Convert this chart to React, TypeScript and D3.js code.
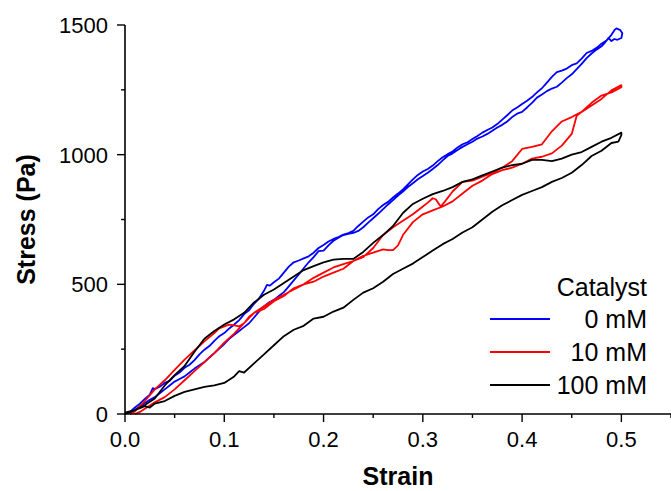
import React from "react";
import * as d3 from "d3";

const xTicks = [0, 0.1, 0.2, 0.3, 0.4, 0.5];
const xMinor = [0.05, 0.15, 0.25, 0.35, 0.45, 0.55];
const yTicks = [0, 500, 1000, 1500];
const yMinor = [250, 750, 1250];
const seriesNames = ["0 mM", "10 mM", "100 mM"];
const seriesColors = ["#0000ff", "#ff0000", "#000000"];

// 0 mM: loading then unloading
const blueStrain = [0, 0.005, 0.01, 0.015, 0.02, 0.025, 0.028, 0.03, 0.035, 0.04, 0.045, 0.05, 0.055, 0.06, 0.065, 0.07, 0.075, 0.08, 0.085, 0.09, 0.095, 0.1, 0.105, 0.11, 0.115, 0.12, 0.125, 0.13, 0.135, 0.14, 0.143, 0.146, 0.15, 0.155, 0.16, 0.165, 0.17, 0.175, 0.18, 0.185, 0.19, 0.195, 0.2, 0.205, 0.21, 0.215, 0.22, 0.225, 0.23, 0.235, 0.24, 0.245, 0.25, 0.255, 0.26, 0.265, 0.27, 0.275, 0.28, 0.285, 0.29, 0.295, 0.3, 0.305, 0.31, 0.315, 0.32, 0.325, 0.33, 0.335, 0.34, 0.345, 0.35, 0.355, 0.36, 0.365, 0.37, 0.375, 0.38, 0.385, 0.39, 0.395, 0.4, 0.405, 0.41, 0.415, 0.42, 0.425, 0.43, 0.435, 0.44, 0.445, 0.45, 0.455, 0.46, 0.465, 0.47, 0.475, 0.48, 0.485, 0.49, 0.493, 0.495, 0.499, 0.501, 0.5, 0.496, 0.493, 0.49, 0.487, 0.483, 0.48, 0.475, 0.47, 0.465, 0.46, 0.455, 0.45, 0.445, 0.44, 0.435, 0.43, 0.425, 0.42, 0.415, 0.41, 0.405, 0.4, 0.395, 0.39, 0.385, 0.38, 0.375, 0.37, 0.365, 0.36, 0.355, 0.35, 0.345, 0.34, 0.335, 0.33, 0.325, 0.32, 0.315, 0.31, 0.305, 0.3, 0.295, 0.29, 0.285, 0.28, 0.275, 0.27, 0.265, 0.26, 0.255, 0.25, 0.245, 0.24, 0.235, 0.23, 0.225, 0.22, 0.215, 0.21, 0.205, 0.2, 0.195, 0.19, 0.185, 0.18, 0.175, 0.17, 0.165, 0.16, 0.155, 0.15, 0.145, 0.14, 0.135, 0.13, 0.125, 0.12, 0.115, 0.11, 0.105, 0.1, 0.095, 0.09, 0.085, 0.08, 0.075, 0.07, 0.065, 0.06, 0.055, 0.05, 0.045, 0.04, 0.035, 0.03, 0.025, 0.02, 0.015, 0.01, 0.005];
const blueStress = [0, 8, 25, 40, 58, 75, 100, 96, 105, 120, 128, 148, 160, 178, 190, 208, 230, 248, 262, 282, 300, 312, 330, 345, 362, 385, 400, 425, 445, 475, 498, 495, 508, 522, 545, 568, 585, 592, 600, 608, 622, 640, 652, 665, 675, 682, 692, 698, 706, 725, 742, 758, 770, 790, 806, 818, 835, 850, 866, 885, 905, 922, 935, 945, 958, 975, 990, 1002, 1012, 1028, 1040, 1048, 1060, 1072, 1085, 1095, 1105, 1118, 1135, 1152, 1170, 1182, 1195, 1208, 1222, 1240, 1256, 1278, 1300, 1318, 1324, 1332, 1345, 1352, 1370, 1392, 1400, 1412, 1428, 1440, 1462, 1480, 1487, 1480, 1468, 1450, 1443, 1446, 1438, 1450, 1430, 1418, 1405, 1390, 1372, 1350, 1330, 1310, 1295, 1278, 1262, 1255, 1245, 1232, 1220, 1200, 1182, 1165, 1158, 1145, 1128, 1115, 1105, 1092, 1080, 1070, 1062, 1050, 1040, 1030, 1018, 1005, 995, 978, 960, 945, 930, 918, 905, 890, 875, 858, 842, 825, 808, 790, 772, 755, 738, 720, 706, 698, 695, 690, 680, 668, 650, 630, 628, 605, 585, 562, 538, 515, 492, 470, 455, 440, 430, 415, 395, 372, 350, 335, 320, 305, 290, 270, 252, 235, 218, 200, 188, 175, 160, 145, 135, 125, 110, 95, 80, 65, 55, 42, 30, 15, 0];

// 10 mM
const redStrain = [0.005, 0.01, 0.015, 0.02, 0.03, 0.04, 0.05, 0.06, 0.07, 0.08, 0.09, 0.095, 0.1, 0.105, 0.11, 0.115, 0.12, 0.125, 0.13, 0.14, 0.15, 0.16, 0.17, 0.18, 0.19, 0.2, 0.21, 0.22, 0.23, 0.24, 0.25, 0.26, 0.27, 0.28, 0.29, 0.3, 0.305, 0.31, 0.313, 0.318, 0.322, 0.33, 0.34, 0.35, 0.36, 0.37, 0.38, 0.39, 0.4, 0.41, 0.42, 0.43, 0.44, 0.45, 0.46, 0.47, 0.48, 0.49, 0.5, 0.5, 0.49, 0.48, 0.47, 0.46, 0.455, 0.45, 0.44, 0.43, 0.42, 0.41, 0.4, 0.39, 0.38, 0.37, 0.36, 0.35, 0.34, 0.33, 0.32, 0.31, 0.3, 0.29, 0.28, 0.275, 0.27, 0.265, 0.26, 0.25, 0.24, 0.23, 0.22, 0.21, 0.2, 0.19, 0.18, 0.17, 0.16, 0.15, 0.14, 0.13, 0.12, 0.11, 0.1, 0.09, 0.08, 0.07, 0.06, 0.05, 0.04, 0.03, 0.02, 0.015, 0.01];
const redStress = [0, 10, 30, 50, 95, 130, 170, 210, 245, 280, 312, 330, 338, 345, 342, 338, 350, 375, 390, 415, 440, 460, 480, 500, 525, 545, 565, 578, 590, 605, 640, 690, 720, 745, 770, 800, 815, 832, 828, 800, 818, 858, 895, 900, 915, 930, 950, 975, 1022, 1030, 1040, 1090, 1128, 1145, 1165, 1190, 1215, 1248, 1268, 1260, 1240, 1228, 1200, 1165, 1150, 1080, 1035, 1005, 992, 985, 965, 950, 940, 925, 900, 880, 850, 820, 800, 785, 770, 740, 690, 650, 632, 632, 635, 622, 610, 590, 560, 545, 530, 510, 500, 485, 455, 435, 405, 390, 350, 310, 275, 235, 200, 165, 130, 95, 65, 45, 20, 8, 0];

// 100 mM
const blackStrain = [0, 0.01, 0.02, 0.03, 0.04, 0.05, 0.06, 0.07, 0.08, 0.09, 0.1, 0.11, 0.12, 0.13, 0.14, 0.15, 0.16, 0.17, 0.18, 0.19, 0.2, 0.21, 0.22, 0.23, 0.24, 0.25, 0.26, 0.27, 0.28, 0.29, 0.3, 0.31, 0.32, 0.33, 0.34, 0.35, 0.36, 0.37, 0.38, 0.39, 0.4, 0.41, 0.42, 0.43, 0.44, 0.45, 0.46, 0.47, 0.48, 0.49, 0.5, 0.5, 0.497, 0.49, 0.48, 0.47, 0.46, 0.45, 0.44, 0.43, 0.42, 0.41, 0.4, 0.39, 0.38, 0.37, 0.36, 0.35, 0.34, 0.33, 0.32, 0.31, 0.3, 0.29, 0.28, 0.27, 0.26, 0.25, 0.24, 0.23, 0.22, 0.21, 0.2, 0.19, 0.18, 0.17, 0.16, 0.15, 0.14, 0.13, 0.12, 0.115, 0.11, 0.1, 0.09, 0.08, 0.07, 0.06, 0.05, 0.04, 0.03, 0.025, 0.02, 0.01, 0];
const blackStress = [0, 15, 35, 60, 110, 150, 185, 240, 290, 320, 345, 365, 390, 430, 460, 480, 505, 530, 555, 570, 585, 595, 598, 598, 625, 660, 690, 725, 775, 810, 830, 848, 860, 875, 895, 905, 920, 935, 950, 960, 965, 980, 980, 975, 985, 1000, 1010, 1030, 1050, 1065, 1085, 1075, 1050, 1045, 1015, 995, 960, 930, 910, 895, 875, 860, 845, 825, 805, 780, 750, 720, 700, 675, 655, 630, 605, 580, 560, 540, 510, 485, 468, 440, 410, 395, 375, 368, 340, 325, 300, 265, 230, 195, 160, 165, 145, 120, 110, 105, 95, 85, 70, 50, 40, 25, 30, 15, 5];

const W = 671;
const H = 491;
const left = 125;
const right = 671;
const top = 25;
const bottom = 414;
const FONT = "Liberation Sans, Arial, Helvetica, sans-serif";

export default function App() {
  const x = d3.scaleLinear().domain([0, 0.55]).range([left, right]);
  const y = d3.scaleLinear().domain([0, 1500]).range([bottom, top]);
  const line = d3
    .line<[number, number]>()
    .x((d) => x(d[0]))
    .y((d) => y(d[1]));
  const series = [
    [blueStrain, blueStress],
    [redStrain, redStress],
    [blackStrain, blackStress],
  ];
  const legendY = [319, 352, 385];
  return (
    <svg
      width={W}
      height={H}
      style={{ position: "absolute", left: 0, top: 0, display: "block" }}
      fontFamily={FONT}
    >
      <rect width={W} height={H} fill="#fff" />
      {series.map(([sx, sy], i) => (
        <path
          key={i}
          d={line(sx.map((v, j) => [v, sy[j]] as [number, number])) || ""}
          fill="none"
          stroke={seriesColors[i]}
          strokeWidth={1.8}
          strokeLinejoin="round"
        />
      ))}
      <line x1={left} x2={left} y1={top} y2={bottom} stroke="#000" strokeWidth={1.6} />
      <line x1={left} x2={right} y1={bottom} y2={bottom} stroke="#000" strokeWidth={1.6} />
      {yTicks.map((t) => (
        <g key={"y" + t}>
          <line x1={left - 8} x2={left} y1={y(t)} y2={y(t)} stroke="#000" strokeWidth={1.4} />
          <text x={left - 17} y={y(t)} dy="0.36em" textAnchor="end" fontSize={22}>
            {t}
          </text>
        </g>
      ))}
      {yMinor.map((t) => (
        <line key={"ym" + t} x1={left - 4} x2={left} y1={y(t)} y2={y(t)} stroke="#000" strokeWidth={1.4} />
      ))}
      {xTicks.map((t) => (
        <g key={"x" + t}>
          <line x1={x(t)} x2={x(t)} y1={bottom} y2={bottom + 8} stroke="#000" strokeWidth={1.4} />
          <text x={x(t)} y={446.5} textAnchor="middle" fontSize={22}>
            {d3.format(".1f")(t)}
          </text>
        </g>
      ))}
      {xMinor.map((t) => (
        <line key={"xm" + t} x1={x(t)} x2={x(t)} y1={bottom} y2={bottom + 4} stroke="#000" strokeWidth={1.4} />
      ))}
      <text x={(left + right) / 2} y={485} textAnchor="middle" fontSize={25} fontWeight="bold">
        Strain
      </text>
      <text
        transform={`translate(35,${(top + bottom) / 2}) rotate(-90)`}
        textAnchor="middle"
        fontSize={25}
        fontWeight="bold"
      >
        Stress (Pa)
      </text>
      <text x={647} y={296} textAnchor="end" fontSize={25}>
        Catalyst
      </text>
      {seriesNames.map((n, i) => (
        <g key={n}>
          <line x1={490} x2={550} y1={legendY[i]} y2={legendY[i]} stroke={seriesColors[i]} strokeWidth={1.8} />
          <text x={647} y={legendY[i] + 9} textAnchor="end" fontSize={25}>
            {n}
          </text>
        </g>
      ))}
    </svg>
  );
}
